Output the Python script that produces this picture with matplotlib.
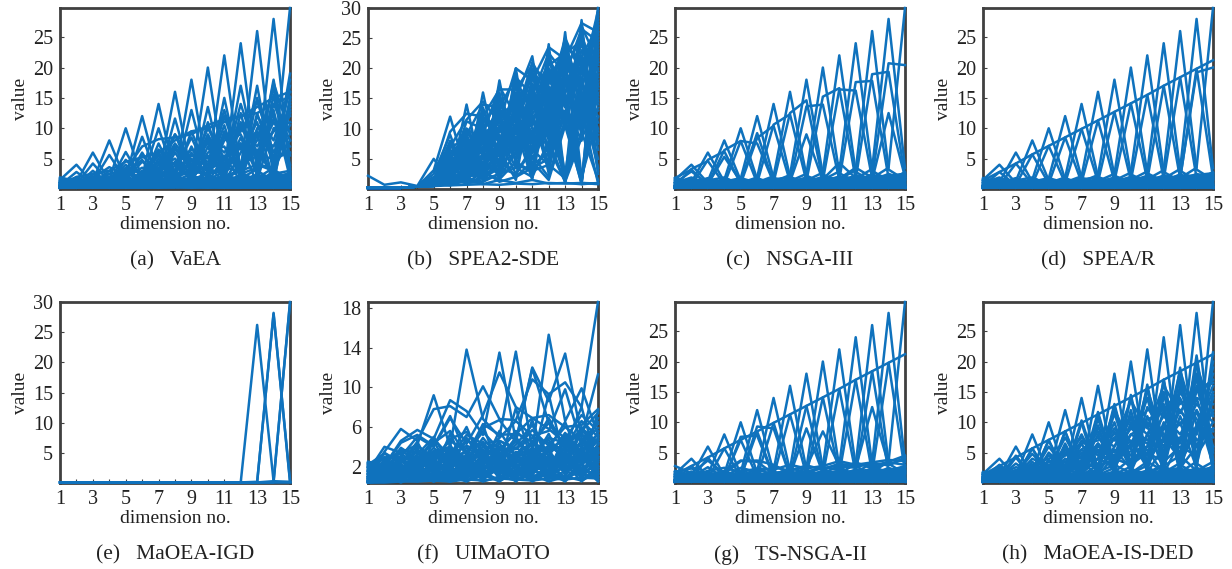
import matplotlib
matplotlib.use("Agg")
import matplotlib.pyplot as plt

plt.rcParams["font.family"] = ["Liberation Serif", "DejaVu Serif"]
plt.rcParams["font.size"] = 13

BLUE = "#0f72bd"
EDGE = "#404040"
TXT = "#222222"

DIMS = list(range(1, 16))

# single-objective extremes (value 2k at dimension k)
SPIKES = [
    [1.5, 4.0, 1.0, 0.4, 0.3, 0.3, 0.2, 0.3, 0.2, 0.3, 0.2, 0.3, 0.2, 0.3, 0.2],
    [0.6, 1.1, 6.0, 1.2, 0.5, 0.4, 0.3, 0.4, 0.3, 0.2, 0.3, 0.2, 0.3, 0.2, 0.3],
    [0.4, 0.7, 1.3, 8.0, 1.4, 0.6, 0.4, 0.3, 0.3, 0.4, 0.2, 0.3, 0.2, 0.3, 0.2],
    [0.3, 0.5, 0.8, 1.5, 10.0, 1.6, 0.7, 0.5, 0.4, 0.3, 0.4, 0.2, 0.3, 0.2, 0.3],
    [0.2, 0.4, 0.5, 0.9, 1.7, 12.0, 1.8, 0.8, 0.6, 0.4, 0.3, 0.3, 0.2, 0.3, 0.2],
    [0.3, 0.3, 0.4, 0.6, 1.0, 1.9, 14.0, 2.0, 0.9, 0.6, 0.4, 0.3, 0.3, 0.2, 0.4],
    [0.2, 0.3, 0.3, 0.5, 0.7, 1.1, 2.1, 16.0, 2.2, 1.0, 0.7, 0.5, 0.3, 0.3, 0.2],
    [0.3, 0.2, 0.3, 0.4, 0.5, 0.8, 1.2, 2.3, 18.0, 2.4, 1.1, 0.8, 0.5, 0.3, 0.3],
    [0.2, 0.3, 0.2, 0.3, 0.4, 0.6, 0.9, 1.3, 2.5, 20.0, 2.6, 1.2, 0.8, 0.5, 0.4],
    [0.3, 0.2, 0.3, 0.3, 0.3, 0.5, 0.7, 1.0, 1.4, 2.7, 22.0, 2.8, 1.3, 0.9, 0.5],
    [0.2, 0.3, 0.2, 0.3, 0.3, 0.4, 0.5, 0.8, 1.1, 1.5, 2.9, 24.0, 3.0, 1.4, 0.9],
    [0.3, 0.2, 0.3, 0.2, 0.3, 0.3, 0.4, 0.6, 0.9, 1.2, 1.6, 3.1, 26.0, 3.2, 1.5],
    [0.2, 0.3, 0.2, 0.3, 0.2, 0.3, 0.3, 0.4, 0.7, 1.0, 1.3, 1.7, 3.3, 28.0, 3.4],
    [0.3, 0.2, 0.3, 0.2, 0.3, 0.2, 0.3, 0.3, 0.5, 0.8, 1.1, 1.4, 1.8, 3.5, 29.8],
]

# two-objective points on neighbouring dimensions
PAIRS = [
    [1.4, 2.8, 0.6, 0.3, 0.2, 0.3, 0.2, 0.3, 0.2, 0.3, 0.2, 0.3, 0.2, 0.3, 0.2],
    [0.5, 2.8, 4.2, 0.8, 0.3, 0.2, 0.3, 0.2, 0.3, 0.2, 0.3, 0.2, 0.3, 0.2, 0.3],
    [0.3, 0.6, 4.2, 5.7, 0.9, 0.3, 0.2, 0.3, 0.2, 0.3, 0.2, 0.3, 0.2, 0.3, 0.2],
    [0.2, 0.4, 0.7, 5.7, 7.1, 1.0, 0.3, 0.2, 0.3, 0.2, 0.3, 0.2, 0.3, 0.2, 0.3],
    [0.3, 0.3, 0.4, 0.8, 7.1, 8.5, 1.1, 0.4, 0.3, 0.2, 0.3, 0.2, 0.3, 0.2, 0.3],
    [0.2, 0.3, 0.3, 0.5, 0.9, 8.5, 9.9, 1.2, 0.4, 0.3, 0.2, 0.3, 0.2, 0.3, 0.2],
    [0.3, 0.2, 0.3, 0.4, 0.6, 1.0, 9.9, 11.3, 1.3, 0.5, 0.3, 0.2, 0.3, 0.2, 0.3],
    [0.2, 0.3, 0.2, 0.3, 0.4, 0.7, 1.1, 11.3, 12.7, 1.4, 0.5, 0.3, 0.2, 0.3, 0.2],
    [0.3, 0.2, 0.3, 0.2, 0.3, 0.5, 0.8, 1.2, 12.7, 14.1, 1.5, 0.6, 0.3, 0.2, 0.3],
    [0.2, 0.3, 0.2, 0.3, 0.2, 0.4, 0.5, 0.9, 1.3, 14.1, 15.5, 1.6, 0.6, 0.3, 0.2],
    [0.3, 0.2, 0.3, 0.2, 0.3, 0.3, 0.4, 0.6, 1.0, 1.4, 15.5, 17.0, 1.7, 0.7, 0.3],
    [0.2, 0.3, 0.2, 0.3, 0.2, 0.3, 0.3, 0.4, 0.7, 1.1, 1.5, 17.0, 18.4, 1.8, 0.7],
    [0.3, 0.2, 0.3, 0.2, 0.3, 0.2, 0.3, 0.3, 0.5, 0.8, 1.2, 1.6, 18.4, 19.8, 1.9],
    [0.2, 0.3, 0.2, 0.3, 0.2, 0.3, 0.2, 0.3, 0.4, 0.6, 0.9, 1.3, 1.7, 19.8, 21.2],
]

# low-valued solutions near the bottom
BAND = [
    [1.8, 1.2, 0.8, 1.0, 0.9, 1.2, 1.1, 1.4, 1.3, 1.6, 1.9, 1.7, 2.0, 2.2, 2.4],
    [0.9, 1.6, 1.3, 0.7, 1.1, 0.8, 1.3, 1.0, 1.5, 1.2, 1.4, 2.1, 1.6, 1.9, 2.6],
    [0.5, 0.8, 1.1, 1.4, 0.6, 1.0, 0.7, 1.2, 0.9, 1.8, 1.1, 1.5, 2.3, 1.4, 2.0],
    [1.2, 0.4, 0.6, 0.9, 1.3, 0.5, 0.9, 0.6, 1.1, 0.8, 1.6, 1.0, 1.3, 2.5, 1.5],
    [0.3, 0.6, 0.4, 0.5, 0.8, 1.1, 0.5, 0.8, 0.6, 1.0, 0.7, 1.3, 0.9, 1.2, 2.8],
    [1.5, 1.0, 1.5, 1.2, 0.4, 0.7, 1.4, 0.5, 0.7, 0.6, 0.9, 0.7, 1.1, 0.8, 1.2],
    [0.7, 0.3, 0.9, 0.3, 0.5, 0.4, 0.6, 0.9, 0.4, 0.5, 0.5, 0.9, 0.6, 1.0, 0.7],
    [0.2, 0.2, 0.3, 0.2, 0.3, 0.3, 0.3, 0.3, 0.4, 0.4, 0.4, 0.5, 0.5, 0.5, 0.6],
    [1.0, 1.9, 0.6, 1.7, 1.0, 1.5, 0.9, 1.7, 1.2, 2.0, 1.3, 2.2, 1.5, 1.7, 1.9],
    [0.4, 0.9, 1.8, 0.8, 1.6, 0.9, 1.8, 1.1, 1.9, 1.0, 2.1, 1.2, 2.4, 1.3, 2.1],
    [0.6, 1.3, 0.5, 1.2, 1.8, 1.0, 1.6, 1.9, 0.8, 1.4, 1.7, 1.0, 1.8, 2.0, 1.3],
    [1.3, 0.7, 1.4, 1.9, 0.7, 1.8, 0.8, 1.3, 1.7, 0.9, 1.2, 1.9, 1.2, 1.6, 2.3],
    [0.3, 1.1, 0.4, 0.6, 1.4, 0.4, 1.0, 0.4, 1.0, 1.3, 0.6, 1.1, 0.7, 1.5, 0.9],
    [1.0, 0.5, 1.0, 0.5, 0.6, 1.4, 0.5, 1.1, 0.5, 0.7, 1.1, 0.6, 1.7, 0.6, 1.8],
]

VAEA = [
    [0.6, 2.8, 0.9, 1.0, 6.1, 1.5, 10.0, 2.0, 1.5, 13.5, 2.2, 3.0, 17.0, 2.5, 3.0],
    [0.4, 0.8, 4.2, 1.2, 1.0, 8.6, 1.5, 11.6, 2.0, 1.8, 15.0, 2.5, 3.5, 18.0, 2.0],
    [1.0, 1.5, 1.2, 5.6, 1.5, 2.0, 6.0, 1.8, 13.0, 2.5, 3.0, 17.0, 4.0, 3.0, 19.0],
    [0.3, 2.0, 2.5, 3.0, 4.5, 5.2, 6.0, 8.0, 9.5, 10.0, 11.0, 12.0, 13.5, 15.0, 16.0],
    [0.5, 1.0, 1.5, 2.5, 3.2, 7.0, 8.2, 8.5, 9.0, 10.5, 11.5, 12.0, 12.5, 14.0, 15.2],
    [0.2, 0.5, 0.8, 1.0, 2.0, 3.5, 2.0, 7.0, 3.0, 9.0, 4.0, 11.0, 6.0, 9.5, 11.0],
    [0.9, 1.2, 2.0, 1.5, 4.0, 1.0, 7.5, 2.0, 9.5, 3.0, 10.5, 2.0, 15.0, 5.0, 14.0],
    [0.3, 0.6, 3.0, 0.8, 2.5, 4.8, 1.2, 6.0, 2.0, 8.0, 1.5, 12.5, 2.0, 15.5, 3.0],
    [0.4, 0.8, 0.6, 2.5, 0.9, 2.0, 4.5, 1.0, 7.0, 1.5, 9.0, 3.0, 12.0, 8.0, 16.0],
    [0.7, 0.4, 1.0, 0.6, 1.8, 0.9, 3.5, 5.0, 1.2, 6.0, 7.0, 2.0, 10.0, 12.0, 4.0],
    [0.2, 0.3, 0.5, 0.4, 0.6, 1.5, 0.8, 3.0, 4.0, 2.0, 8.0, 9.0, 3.0, 14.0, 8.0],
    [0.5, 0.4, 0.3, 0.9, 0.5, 0.8, 1.2, 0.7, 2.0, 4.0, 1.0, 6.0, 11.0, 1.5, 13.0],
    [1.2, 0.7, 0.4, 0.3, 1.0, 0.4, 0.6, 2.5, 0.8, 1.0, 5.5, 1.2, 1.5, 10.0, 11.0],
    [0.3, 0.5, 0.7, 1.2, 0.5, 2.5, 0.9, 1.5, 5.0, 0.7, 2.0, 7.5, 0.8, 3.0, 18.0],
    [0.6, 0.9, 1.3, 0.6, 1.4, 1.0, 2.8, 0.6, 1.0, 7.0, 0.9, 1.5, 9.0, 0.9, 15.0],
    [0.2, 0.2, 0.3, 0.3, 0.4, 0.5, 0.4, 0.6, 0.5, 0.8, 0.6, 1.0, 0.8, 1.2, 1.5],
    [1.9, 1.3, 0.9, 0.6, 0.8, 0.6, 0.5, 0.9, 0.7, 0.6, 1.2, 0.8, 1.3, 1.0, 0.8],
    [0.5, 1.8, 1.0, 1.8, 2.8, 1.2, 4.0, 3.0, 5.5, 4.5, 5.0, 7.5, 6.0, 9.5, 12.0],
    [0.4, 1.1, 1.8, 3.6, 2.2, 5.5, 3.0, 7.5, 4.0, 8.5, 6.0, 10.0, 7.0, 11.5, 9.5],
    [0.8, 0.5, 2.4, 1.5, 3.5, 2.5, 5.5, 4.0, 6.5, 5.0, 8.5, 6.5, 9.0, 7.0, 13.5],
    [0.3, 1.4, 0.7, 2.0, 1.5, 4.5, 2.5, 6.5, 3.5, 10.0, 5.0, 9.5, 14.5, 6.0, 10.5],
    [1.1, 0.6, 1.6, 0.9, 4.8, 2.0, 6.5, 3.0, 8.5, 2.5, 12.0, 4.0, 8.0, 16.5, 5.5],
    [0.5, 1.6, 0.8, 3.0, 1.2, 6.0, 1.6, 9.0, 4.5, 7.5, 3.5, 14.0, 5.5, 11.0, 7.0],
    [0.2, 0.7, 1.5, 0.8, 3.2, 1.0, 5.0, 1.5, 6.0, 1.8, 9.5, 1.6, 12.5, 4.0, 17.0],
    [0.9, 1.3, 0.5, 1.9, 0.8, 3.0, 1.2, 4.5, 1.5, 11.0, 2.0, 8.5, 2.5, 13.0, 1.8],
    [0.6, 0.4, 1.1, 0.5, 2.2, 0.8, 4.0, 9.0, 2.5, 4.0, 13.0, 3.5, 6.5, 2.0, 14.5],
    [0.4, 0.9, 0.6, 1.4, 0.9, 2.4, 5.5, 1.8, 3.5, 8.5, 2.5, 10.5, 4.5, 17.5, 9.0],
    [1.4, 0.8, 1.2, 0.7, 1.6, 1.2, 2.0, 3.8, 2.0, 5.5, 3.0, 7.0, 9.5, 5.0, 12.5],
    [0.3, 0.5, 0.9, 1.1, 1.3, 2.0, 2.8, 2.2, 4.0, 3.0, 4.8, 4.0, 5.5, 5.0, 6.0],
    [0.7, 1.0, 0.6, 1.3, 2.6, 1.5, 2.2, 2.0, 2.8, 2.6, 3.5, 3.0, 4.0, 3.5, 8.0],
]

SPEA2_SDE = [
    [2.2, 0.7, 1.1, 0.5, 5.0, 1.2, 14.0, 1.5, 2.5, 20.0, 3.0, 4.0, 26.0, 2.0, 12.0],
    [0.2, 0.2, 0.2, 0.4, 3.1, 12.0, 2.5, 1.8, 18.0, 4.0, 3.0, 24.0, 1.5, 28.0, 2.5],
    [0.2, 0.2, 0.2, 0.4, 2.5, 9.0, 1.5, 16.0, 3.0, 15.0, 22.0, 5.0, 18.0, 10.0, 30.0],
    [0.2, 0.2, 0.2, 0.4, 1.5, 3.0, 11.2, 10.0, 15.5, 6.0, 18.5, 12.0, 22.0, 14.0, 25.0],
    [0.2, 0.2, 0.2, 0.4, 1.0, 6.0, 5.0, 13.5, 5.5, 17.2, 8.0, 20.0, 11.0, 25.0, 8.0],
    [0.2, 0.2, 0.2, 0.4, 0.6, 4.0, 8.0, 4.0, 12.0, 7.0, 16.0, 9.0, 15.0, 1.0, 20.0],
    [0.2, 0.2, 0.2, 0.4, 1.2, 2.0, 6.0, 10.5, 2.0, 14.0, 3.0, 17.0, 2.5, 20.0, 15.0],
    [0.2, 0.2, 0.2, 0.4, 0.8, 7.5, 2.5, 7.0, 9.0, 3.5, 12.0, 4.0, 13.0, 1.2, 27.0],
    [0.2, 0.2, 0.2, 0.4, 2.0, 1.5, 9.0, 3.0, 6.0, 12.0, 2.0, 15.0, 20.0, 9.0, 18.0],
    [0.2, 0.2, 0.2, 0.4, 0.5, 3.5, 4.0, 8.5, 11.0, 9.0, 14.0, 16.0, 11.0, 12.0, 22.0],
    [0.2, 0.2, 0.2, 0.4, 1.4, 5.0, 3.0, 5.5, 14.0, 10.0, 6.0, 13.0, 17.0, 18.0, 10.0],
    [0.2, 0.2, 0.2, 0.4, 0.7, 1.0, 3.5, 2.0, 7.0, 16.0, 10.0, 7.0, 19.0, 22.0, 14.0],
    [0.2, 0.2, 0.2, 0.4, 0.9, 2.5, 1.2, 6.0, 4.5, 8.0, 15.0, 11.0, 24.0, 16.0, 5.0],
    [0.2, 0.2, 0.2, 0.4, 0.6, 1.5, 2.0, 3.5, 10.0, 5.0, 9.0, 18.0, 14.0, 8.0, 26.0],
    [0.2, 0.2, 0.2, 0.4, 1.1, 4.5, 7.0, 2.5, 5.0, 13.0, 5.0, 10.0, 2.0, 17.0, 12.0],
    [0.2, 0.2, 0.2, 0.4, 0.5, 1.2, 1.5, 9.0, 2.0, 6.0, 12.5, 3.0, 16.0, 1.5, 16.0],
    [0.2, 0.2, 0.2, 0.4, 0.8, 2.0, 5.0, 1.5, 8.0, 2.5, 7.0, 14.0, 1.5, 15.0, 3.5],
    [0.2, 0.2, 0.2, 0.4, 0.6, 0.8, 2.5, 4.5, 3.0, 11.0, 4.0, 6.0, 12.0, 11.0, 19.0],
    [0.2, 0.2, 0.2, 0.4, 1.0, 3.0, 1.0, 2.0, 6.5, 1.5, 17.0, 2.5, 21.0, 1.0, 23.0],
    [0.2, 0.2, 0.2, 0.4, 0.5, 0.9, 1.8, 1.2, 2.5, 3.5, 2.0, 8.0, 1.2, 13.0, 1.0],
    [0.2, 0.2, 0.2, 0.4, 0.7, 1.8, 0.9, 3.0, 1.2, 2.0, 4.5, 1.5, 10.5, 1.0, 0.8],
    [0.2, 0.2, 0.2, 0.4, 0.9, 0.6, 1.5, 0.8, 1.5, 1.0, 1.5, 0.9, 1.0, 0.8, 1.0],
    [0.2, 0.2, 0.2, 0.4, 0.5, 0.6, 0.7, 0.8, 0.7, 0.9, 0.8, 1.0, 0.9, 1.0, 0.9],
    [0.2, 0.2, 0.2, 0.4, 1.3, 6.5, 4.5, 12.0, 7.5, 18.0, 13.0, 21.0, 16.0, 24.0, 17.0],
    [0.2, 0.2, 0.2, 0.4, 0.6, 2.8, 9.5, 5.5, 13.0, 11.0, 20.0, 15.0, 25.0, 19.0, 28.0],
    [0.2, 0.2, 0.2, 0.4, 0.8, 1.0, 4.0, 6.5, 15.0, 8.0, 13.5, 19.0, 12.0, 27.0, 21.0],
    [0.2, 0.2, 0.2, 0.4, 0.5, 1.5, 3.0, 12.0, 9.5, 14.5, 11.0, 8.5, 23.0, 10.5, 13.0],
    [0.2, 0.2, 0.2, 0.4, 1.7, 4.0, 6.5, 8.0, 1.5, 10.0, 1.5, 22.0, 14.0, 22.0, 6.5],
    [0.2, 0.2, 0.2, 0.4, 0.7, 2.2, 1.0, 1.2, 5.0, 2.0, 3.5, 5.0, 11.0, 0.8, 29.0],
    [0.2, 0.2, 0.2, 0.4, 0.9, 5.5, 2.0, 11.0, 3.5, 19.0, 6.0, 13.5, 1.5, 12.5, 9.0],
    [0.2, 0.2, 0.2, 0.4, 1.0, 4.8, 10.0, 6.0, 10.5, 12.5, 8.5, 17.5, 19.5, 15.0, 23.5],
    [0.2, 0.2, 0.2, 0.4, 0.6, 3.8, 5.5, 9.5, 7.0, 15.5, 11.5, 14.0, 21.0, 17.5, 11.0],
    [0.2, 0.2, 0.2, 0.4, 1.5, 8.0, 3.5, 11.5, 8.5, 5.0, 16.5, 10.5, 17.5, 20.0, 16.5],
    [0.2, 0.2, 0.2, 0.4, 0.9, 2.2, 7.5, 3.5, 12.5, 9.5, 19.5, 8.0, 12.5, 23.0, 19.5],
    [0.2, 0.2, 0.2, 0.4, 0.7, 5.8, 1.8, 8.0, 4.0, 14.5, 7.5, 19.5, 15.5, 13.5, 24.0],
    [0.2, 0.2, 0.2, 0.4, 1.2, 1.8, 6.8, 5.0, 16.0, 4.5, 14.5, 6.5, 20.5, 16.5, 27.5],
    [0.2, 0.2, 0.2, 0.4, 0.5, 3.2, 2.2, 10.0, 6.0, 17.5, 3.5, 16.5, 10.5, 21.0, 7.5],
    [0.2, 0.2, 0.2, 0.4, 0.8, 1.4, 5.5, 7.5, 12.0, 6.5, 17.5, 13.5, 18.5, 11.0, 21.5],
    [0.2, 0.2, 0.2, 0.4, 1.0, 6.8, 8.5, 2.8, 10.5, 8.5, 11.0, 18.5, 13.5, 26.0, 14.5],
    [0.2, 0.2, 0.2, 0.4, 0.6, 2.5, 3.8, 13.0, 8.0, 12.0, 9.5, 11.5, 25.0, 12.5, 22.5],
    [0.2, 0.2, 0.2, 0.4, 1.3, 4.2, 6.2, 6.8, 13.5, 7.5, 15.5, 9.5, 16.5, 14.5, 18.5],
    [0.2, 0.2, 0.2, 0.4, 0.9, 1.2, 2.8, 5.0, 7.5, 10.5, 12.5, 15.5, 18.0, 21.0, 25.5],
    [0.2, 0.2, 0.2, 0.4, 0.7, 3.0, 4.8, 2.2, 4.0, 6.0, 8.0, 12.0, 14.5, 18.5, 3.0],
    [0.2, 0.2, 0.2, 0.4, 1.1, 2.0, 1.5, 4.0, 2.5, 8.5, 5.5, 2.0, 11.5, 2.0, 17.5],
    [0.2, 0.2, 0.2, 0.4, 0.5, 0.9, 1.2, 1.8, 3.5, 2.5, 6.5, 4.0, 1.8, 9.5, 1.5],
    [0.2, 0.2, 0.2, 0.4, 0.8, 1.5, 2.0, 2.6, 1.6, 4.5, 2.8, 7.0, 1.2, 8.5, 13.5],
    [0.2, 0.2, 0.2, 0.4, 0.6, 2.5, 10.0, 8.0, 11.5, 13.5, 16.0, 20.5, 22.5, 24.5, 20.5],
    [0.2, 0.2, 0.2, 0.4, 1.4, 9.5, 12.5, 12.0, 16.5, 16.5, 20.5, 17.5, 24.0, 20.5, 26.5],
    [0.2, 0.2, 0.2, 0.4, 0.9, 5.0, 9.0, 14.0, 13.5, 18.5, 15.5, 22.5, 19.0, 26.5, 24.5],
    [0.2, 0.2, 0.2, 0.4, 0.7, 3.5, 7.0, 9.0, 17.0, 12.0, 21.0, 16.0, 21.5, 18.0, 29.5],
    [0.2, 0.2, 0.2, 0.4, 1.2, 7.0, 11.5, 14.5, 11.0, 20.0, 18.0, 23.5, 21.5, 27.5, 26.0],
    [0.2, 0.2, 0.2, 0.4, 0.8, 4.5, 6.0, 11.0, 14.5, 10.0, 13.0, 21.5, 17.0, 22.0, 27.0],
    [0.2, 0.2, 0.2, 0.4, 0.6, 2.0, 8.5, 6.0, 9.5, 15.0, 9.0, 12.5, 19.5, 25.5, 17.0],
    [0.2, 0.2, 0.2, 0.4, 1.0, 5.2, 3.0, 9.0, 11.5, 11.5, 17.0, 10.0, 22.5, 15.5, 21.0],
    [0.2, 0.2, 0.2, 0.4, 1.3, 3.0, 5.0, 7.0, 9.5, 13.0, 10.5, 20.0, 16.0, 19.5, 28.5],
    [0.2, 0.2, 0.2, 0.4, 0.5, 1.8, 4.5, 3.0, 8.0, 7.0, 11.5, 14.0, 1.0, 18.0, 9.5],
    [0.2, 0.2, 0.2, 0.4, 0.9, 3.6, 2.0, 4.5, 5.5, 9.5, 6.5, 10.5, 12.5, 10.0, 24.5],
    [0.2, 0.2, 0.2, 0.4, 0.7, 6.0, 7.5, 10.0, 12.5, 14.0, 19.0, 14.0, 23.5, 21.5, 15.5],
]

NSGA3_PAIRS = [
    [1.8, 3.2, 0.6, 0.3, 0.2, 0.3, 0.2, 0.3, 0.2, 0.3, 0.2, 0.3, 0.2, 0.3, 0.2],
    [0.5, 3.3, 4.6, 0.8, 0.3, 0.2, 0.3, 0.2, 0.3, 0.2, 0.3, 0.2, 0.3, 0.2, 0.3],
    [0.3, 0.6, 4.8, 6.2, 0.9, 0.3, 0.2, 0.3, 0.2, 0.3, 0.2, 0.3, 0.2, 0.3, 0.2],
    [0.2, 0.4, 0.7, 6.4, 7.9, 1.0, 0.3, 0.2, 0.3, 0.2, 0.3, 0.2, 0.3, 0.2, 0.3],
    [0.3, 0.3, 0.4, 0.8, 7.9, 7.5, 1.1, 0.4, 0.3, 0.2, 0.3, 0.2, 0.3, 0.2, 0.3],
    [0.2, 0.3, 0.3, 0.5, 0.9, 8.4, 10.4, 1.2, 0.4, 0.3, 0.2, 0.3, 0.2, 0.3, 0.2],
    [0.3, 0.2, 0.3, 0.4, 0.6, 1.0, 10.6, 12.3, 1.3, 0.5, 0.3, 0.2, 0.3, 0.2, 0.3],
    [0.2, 0.3, 0.2, 0.3, 0.4, 0.7, 1.1, 12.5, 14.6, 1.4, 0.5, 0.3, 0.2, 0.3, 0.2],
    [0.3, 0.2, 0.3, 0.2, 0.3, 0.5, 0.8, 1.2, 13.6, 13.9, 1.5, 0.6, 0.3, 0.2, 0.3],
    [0.2, 0.3, 0.2, 0.3, 0.2, 0.4, 0.5, 0.9, 1.3, 15.2, 16.6, 1.6, 0.6, 0.3, 0.2],
    [0.3, 0.2, 0.3, 0.2, 0.3, 0.3, 0.4, 0.6, 1.0, 1.4, 16.4, 16.2, 1.7, 0.7, 0.3],
    [0.2, 0.3, 0.2, 0.3, 0.2, 0.3, 0.3, 0.4, 0.7, 1.1, 1.5, 17.6, 17.8, 1.8, 0.7],
    [0.3, 0.2, 0.3, 0.2, 0.3, 0.2, 0.3, 0.3, 0.5, 0.8, 1.2, 1.6, 18.9, 19.3, 1.9],
    [0.2, 0.3, 0.2, 0.3, 0.2, 0.3, 0.2, 0.3, 0.4, 0.6, 0.9, 1.3, 1.7, 20.7, 20.4],
]

NSGA3 = [
    [0.4, 0.6, 0.8, 0.5, 0.9, 0.7, 1.0, 1.2, 9.0, 1.4, 1.0, 1.3, 1.1, 1.6, 1.4],
    [0.3, 0.5, 0.4, 0.7, 0.6, 0.9, 0.8, 1.1, 1.3, 1.6, 4.3, 1.8, 1.5, 12.5, 2.0],
    [0.6, 0.4, 0.7, 0.6, 0.8, 1.0, 0.9, 1.3, 1.1, 1.5, 1.7, 3.5, 1.9, 2.2, 2.4],
    [1.0, 2.9, 0.8, 5.3, 1.2, 9.2, 1.0, 1.4, 1.2, 1.5, 1.3, 1.7, 1.6, 1.8, 2.1],
]

SPEA_R = [
    [0.5, 0.4, 0.6, 0.8, 0.7, 1.0, 1.2, 1.1, 1.4, 1.6, 1.9, 1.7, 2.0, 2.3, 2.6],
    [0.6, 0.5, 0.7, 0.6, 0.9, 0.8, 1.1, 1.0, 1.3, 1.2, 2.2, 1.4, 1.8, 19.2, 20.0],
]

TS_NSGA2 = [
    [0.3, 0.3, 0.4, 0.6, 7.6, 7.8, 1.0, 0.4, 0.3, 0.3, 0.2, 0.3, 0.2, 0.3, 0.2],
    [0.2, 0.3, 0.3, 0.5, 0.9, 9.3, 9.0, 1.1, 0.4, 0.3, 0.3, 0.2, 0.3, 0.2, 0.3],
    [2.8, 1.6, 3.7, 1.5, 3.6, 3.7, 3.0, 1.6, 1.9, 2.4, 3.0, 3.1, 2.8, 3.5, 4.5],
    [1.8, 2.4, 1.2, 2.0, 3.7, 3.5, 1.5, 2.2, 2.6, 8.5, 2.8, 2.5, 12.5, 3.0, 4.0],
    [0.9, 1.1, 2.0, 2.5, 1.8, 2.4, 2.2, 3.0, 2.4, 2.8, 3.6, 3.0, 3.4, 3.8, 3.6],
    [1.2, 0.8, 1.5, 1.1, 2.5, 1.8, 2.6, 2.0, 2.9, 2.2, 3.2, 2.6, 3.3, 2.9, 4.2],
    [0.5, 1.4, 0.9, 1.8, 1.3, 2.2, 1.4, 2.4, 1.8, 2.6, 2.2, 3.4, 2.4, 3.4, 3.0],
    [2.0, 1.0, 2.6, 0.8, 1.6, 1.2, 1.8, 1.3, 9.0, 1.6, 2.0, 1.8, 2.3, 2.0, 2.8],
]

MAOEA_IGD = [
    [0.1, 0.1, 0.1, 0.1, 0.1, 0.1, 0.1, 0.1, 0.1, 0.1, 0.1, 0.1, 0.1, 0.1, 0.1],
    [0.1, 0.1, 0.1, 0.1, 0.1, 0.1, 0.1, 0.1, 0.1, 0.1, 0.1, 0.1, 26.2, 0.3, 0.2],
    [0.1, 0.1, 0.1, 0.1, 0.1, 0.1, 0.1, 0.1, 0.1, 0.1, 0.1, 0.1, 0.1, 28.2, 0.2],
    [0.1, 0.1, 0.1, 0.1, 0.1, 0.1, 0.1, 0.1, 0.1, 0.1, 0.1, 0.1, 0.2, 28.0, 0.4],
    [0.1, 0.1, 0.1, 0.1, 0.1, 0.1, 0.1, 0.1, 0.1, 0.1, 0.1, 0.1, 0.1, 0.1, 30.0],
    [0.1, 0.1, 0.1, 0.1, 0.1, 0.1, 0.1, 0.1, 0.1, 0.1, 0.1, 0.1, 0.1, 0.3, 29.8],
]

UIMAOTO = [
    [2.5, 2.1, 4.6, 5.7, 4.8, 8.7, 7.6, 5.2, 13.5, 4.6, 12.0, 8.6, 13.4, 5.0, 11.3],
    [1.5, 4.0, 3.4, 4.2, 9.2, 4.0, 13.8, 6.8, 5.0, 13.6, 3.6, 15.3, 6.6, 9.9, 5.2],
    [0.8, 3.5, 5.8, 4.6, 7.8, 8.1, 7.0, 10.1, 6.8, 6.7, 10.8, 9.3, 10.5, 8.0, 18.6],
    [1.9, 2.8, 3.0, 5.0, 4.0, 6.9, 4.3, 7.2, 11.5, 8.0, 6.9, 7.2, 6.0, 6.2, 7.8],
    [1.2, 1.5, 3.9, 2.8, 4.4, 5.6, 3.2, 5.9, 6.7, 4.5, 11.9, 6.4, 4.8, 7.2, 5.6],
    [2.2, 3.3, 2.5, 3.6, 2.6, 4.8, 5.5, 3.4, 4.9, 6.6, 5.1, 5.6, 9.8, 4.2, 6.5],
    [0.6, 2.4, 1.8, 3.2, 5.0, 2.2, 4.6, 4.1, 3.6, 5.6, 4.0, 6.9, 3.8, 5.9, 4.4],
    [1.6, 0.9, 2.9, 1.6, 3.3, 3.8, 2.5, 4.9, 2.8, 4.2, 6.2, 3.1, 5.4, 3.3, 6.9],
    [0.4, 1.7, 1.0, 2.5, 1.8, 3.1, 6.0, 2.0, 5.6, 3.0, 3.4, 4.7, 2.4, 4.6, 3.0],
    [2.0, 1.2, 2.2, 1.1, 3.6, 1.6, 3.9, 3.0, 2.1, 7.9, 2.3, 3.8, 6.5, 2.2, 4.9],
    [1.0, 2.0, 1.4, 3.9, 1.2, 2.7, 2.0, 6.2, 1.5, 3.5, 2.6, 5.3, 1.8, 3.6, 2.4],
    [0.5, 0.7, 3.1, 0.9, 2.3, 1.1, 2.9, 1.4, 4.4, 1.5, 4.6, 1.9, 4.1, 8.0, 2.0],
    [1.4, 1.0, 0.8, 2.0, 0.9, 4.2, 1.3, 2.6, 1.2, 2.9, 1.6, 2.5, 3.2, 1.6, 7.6],
    [0.9, 1.9, 1.2, 0.7, 2.9, 0.8, 1.9, 1.0, 3.3, 1.1, 1.8, 3.6, 1.3, 2.8, 1.5],
    [1.8, 0.6, 1.7, 1.3, 0.6, 2.1, 0.7, 3.6, 0.9, 2.1, 0.8, 2.2, 0.9, 4.8, 3.3],
    [0.4, 1.3, 0.5, 1.9, 1.5, 0.6, 3.3, 0.7, 2.4, 0.9, 3.2, 1.0, 2.7, 1.0, 2.6],
    [2.4, 1.6, 2.6, 2.2, 2.0, 3.4, 2.4, 2.2, 3.9, 2.6, 2.9, 4.1, 3.0, 3.9, 3.8],
    [0.7, 0.5, 0.6, 0.8, 1.0, 1.3, 1.1, 1.6, 1.4, 1.2, 1.5, 1.3, 1.9, 1.7, 1.2],
    [0.4, 0.4, 0.5, 0.5, 0.6, 0.5, 0.7, 0.6, 0.8, 0.7, 0.6, 0.8, 0.7, 0.9, 0.8],
    [1.2, 2.6, 2.0, 1.5, 1.7, 2.5, 1.6, 4.5, 2.0, 5.0, 2.5, 9.3, 2.2, 6.0, 2.8],
    [0.9, 1.1, 1.6, 2.6, 3.5, 4.0, 2.8, 3.1, 4.0, 3.3, 4.4, 3.5, 4.2, 3.4, 4.8],
    [1.7, 2.3, 3.7, 3.4, 2.4, 1.9, 4.9, 2.5, 2.9, 4.9, 3.0, 2.6, 3.1, 2.7, 3.6],
    [0.6, 1.0, 2.3, 4.5, 1.4, 5.3, 1.8, 3.7, 1.6, 2.4, 6.7, 2.0, 2.3, 5.4, 1.8],
    [1.3, 3.0, 0.9, 1.2, 4.6, 1.5, 2.2, 1.2, 2.2, 1.4, 2.0, 1.5, 5.2, 1.4, 2.1],
    [2.1, 0.8, 1.9, 2.9, 2.2, 2.9, 3.5, 1.9, 3.1, 1.9, 1.3, 3.0, 1.6, 2.2, 4.2],
    [0.5, 1.5, 2.0, 1.0, 2.5, 1.4, 2.0, 2.8, 1.2, 3.2, 1.9, 2.8, 1.4, 3.0, 1.0],
    [1.1, 0.6, 1.2, 2.4, 0.8, 1.9, 1.0, 1.8, 2.6, 1.0, 2.4, 1.1, 3.6, 1.2, 3.4],
    [2.3, 1.4, 0.7, 1.4, 1.9, 0.9, 2.6, 1.2, 1.8, 2.8, 1.2, 3.2, 2.0, 1.9, 2.6],
    [0.7, 2.2, 1.6, 0.6, 1.1, 2.8, 1.4, 3.0, 0.8, 1.7, 3.6, 0.9, 1.1, 3.4, 0.7],
    [1.5, 0.5, 2.5, 1.8, 0.7, 1.2, 3.1, 0.8, 2.3, 0.7, 1.4, 2.4, 0.8, 2.4, 5.5],
    [0.4, 0.9, 0.5, 3.0, 2.6, 3.6, 0.9, 2.3, 3.2, 2.0, 0.9, 1.7, 4.6, 0.7, 1.6],
    [1.9, 2.9, 3.3, 2.2, 3.9, 2.4, 3.6, 2.8, 4.6, 3.8, 4.9, 4.4, 3.6, 4.3, 5.9],
    [1.0, 1.8, 2.7, 3.4, 3.0, 3.1, 4.1, 3.5, 3.0, 4.5, 3.3, 4.9, 4.4, 5.2, 4.4],
    [0.6, 0.8, 1.0, 1.0, 1.3, 1.6, 1.4, 2.0, 1.7, 2.2, 2.1, 2.0, 2.6, 2.4, 2.9],
    [1.3, 1.1, 0.9, 1.6, 0.5, 1.4, 0.6, 1.5, 0.6, 1.3, 0.7, 1.6, 0.6, 1.8, 0.9],
    [0.8, 2.5, 1.3, 2.0, 3.2, 2.0, 3.0, 1.6, 3.8, 2.3, 3.9, 2.2, 2.2, 3.1, 3.9],
    [2.1, 1.8, 2.8, 2.6, 1.5, 3.9, 2.1, 4.0, 2.5, 3.9, 2.9, 3.5, 5.0, 3.0, 4.6],
    [0.4, 0.6, 1.4, 0.7, 1.7, 0.8, 1.2, 0.9, 2.0, 0.8, 2.7, 0.9, 1.5, 1.1, 1.3],
    [1.6, 3.4, 2.4, 4.1, 2.9, 4.6, 3.5, 5.5, 3.7, 5.4, 4.5, 6.4, 3.9, 6.6, 5.0],
    [0.9, 1.4, 3.6, 2.6, 4.8, 3.0, 5.2, 4.3, 4.6, 3.8, 5.7, 4.1, 6.0, 4.7, 6.3],
    [0.5, 2.0, 4.4, 5.2, 4.1, 7.1, 3.1, 6.3, 5.2, 5.3, 6.9, 5.8, 4.4, 5.6, 7.4],
    [0.4, 0.5, 0.8, 0.6, 0.9, 0.5, 1.1, 0.5, 1.0, 0.6, 1.2, 0.5, 1.0, 0.6, 1.4],
    [0.8, 1.2, 0.4, 1.1, 0.5, 1.0, 0.5, 1.2, 0.5, 1.6, 0.5, 1.4, 0.5, 2.2, 0.5],
    [1.7, 0.9, 1.5, 0.5, 1.3, 0.6, 1.7, 0.7, 1.9, 0.5, 1.8, 0.7, 2.3, 0.5, 2.0],
    [0.5, 1.6, 2.2, 1.5, 2.0, 2.3, 1.9, 2.4, 2.2, 2.5, 2.3, 2.7, 2.5, 2.8, 3.0],
    [2.4, 2.0, 1.1, 2.8, 1.6, 2.4, 1.5, 2.6, 1.4, 2.7, 1.6, 2.9, 1.7, 3.2, 1.8],
    [1.2, 1.3, 2.0, 1.8, 2.7, 1.0, 2.2, 1.1, 2.9, 1.3, 3.1, 1.6, 2.9, 1.4, 3.7],
    [0.6, 2.6, 0.9, 2.3, 0.9, 3.0, 1.0, 3.3, 1.1, 3.4, 1.2, 3.7, 1.2, 3.9, 1.3],
    [2.0, 1.0, 3.0, 0.8, 2.8, 0.7, 3.2, 0.9, 3.5, 1.0, 3.9, 1.1, 4.0, 1.2, 4.3],
    [0.9, 0.7, 1.3, 1.2, 1.6, 2.0, 2.4, 1.7, 2.6, 2.1, 2.8, 2.4, 3.2, 2.6, 3.5],
    [1.5, 1.9, 1.7, 2.5, 2.2, 3.3, 2.7, 3.6, 3.4, 3.1, 3.8, 3.6, 4.2, 3.7, 4.7],
    [0.4, 0.8, 1.9, 0.6, 2.0, 0.6, 2.5, 0.6, 2.6, 0.7, 2.9, 0.7, 3.3, 0.8, 3.0],
    [1.0, 2.3, 2.9, 3.0, 3.5, 2.6, 2.9, 3.2, 3.9, 3.3, 4.3, 3.8, 4.7, 4.0, 5.2],
]

MAOEA_IS_DED = [
    [0.8, 3.0, 1.0, 5.7, 1.5, 8.5, 2.0, 11.7, 2.5, 14.5, 3.0, 17.0, 3.5, 21.0, 4.0],
    [1.5, 1.0, 4.5, 1.2, 7.0, 1.8, 10.3, 2.2, 13.0, 2.8, 16.2, 3.2, 19.0, 4.0, 20.0],
    [0.4, 1.5, 2.0, 3.0, 4.0, 5.0, 6.5, 7.0, 8.0, 9.0, 12.0, 12.5, 13.0, 15.0, 16.5],
    [0.6, 0.8, 1.2, 2.5, 1.5, 4.0, 3.0, 6.0, 5.0, 9.0, 7.0, 11.0, 8.0, 13.0, 10.0],
    [1.0, 0.5, 2.2, 1.0, 3.8, 2.0, 5.5, 3.0, 7.5, 4.5, 10.0, 6.0, 12.0, 8.0, 18.0],
    [0.3, 0.6, 0.9, 1.5, 2.5, 1.8, 4.5, 8.5, 4.0, 6.0, 14.0, 4.0, 16.0, 6.0, 12.0],
    [0.5, 1.2, 0.6, 2.0, 1.0, 3.0, 8.0, 2.5, 11.5, 3.0, 6.0, 15.0, 2.0, 12.0, 3.0],
    [0.7, 0.4, 1.5, 0.8, 3.0, 1.2, 2.0, 9.5, 2.0, 12.0, 2.5, 9.0, 17.0, 3.0, 14.0],
    [0.2, 0.3, 0.5, 0.7, 1.0, 5.0, 1.5, 4.0, 10.0, 1.8, 8.0, 13.0, 1.5, 18.0, 2.0],
    [1.2, 0.9, 0.7, 3.5, 0.9, 1.4, 6.5, 1.5, 6.0, 11.0, 1.7, 6.0, 10.0, 2.5, 21.5],
    [0.4, 0.7, 1.0, 0.6, 5.0, 2.5, 3.5, 6.5, 3.0, 8.0, 9.5, 2.0, 14.0, 7.0, 9.0],
    [0.9, 1.6, 0.5, 1.3, 0.7, 6.5, 1.2, 3.0, 7.5, 2.5, 12.5, 8.0, 5.0, 16.0, 6.0],
    [0.3, 0.5, 1.8, 0.9, 2.0, 1.0, 3.5, 1.2, 4.5, 7.0, 2.5, 10.0, 3.0, 9.0, 15.0],
    [0.6, 1.0, 0.8, 1.6, 1.2, 2.2, 1.6, 5.5, 1.8, 4.0, 5.5, 1.5, 7.0, 12.0, 7.5],
    [0.2, 0.4, 0.3, 0.6, 0.5, 0.9, 0.7, 1.3, 1.0, 2.0, 1.5, 2.8, 4.5, 2.0, 3.5],
    [1.8, 1.0, 1.2, 0.8, 1.5, 1.1, 1.4, 1.8, 3.0, 1.6, 3.5, 2.0, 2.5, 6.0, 10.0],
    [0.5, 1.3, 2.6, 2.0, 4.5, 3.5, 5.5, 7.5, 6.0, 10.5, 8.0, 12.5, 9.5, 14.0, 13.0],
    [0.9, 0.7, 1.6, 2.8, 2.0, 5.5, 4.0, 9.0, 7.0, 13.5, 9.0, 16.0, 11.5, 17.0, 5.0],
    [1.3, 1.8, 1.1, 4.0, 2.8, 4.5, 7.5, 5.0, 9.0, 5.5, 15.5, 7.0, 18.5, 9.5, 16.0],
    [0.4, 1.0, 3.2, 1.4, 6.0, 2.5, 7.0, 4.5, 12.0, 6.5, 10.5, 11.5, 6.5, 19.5, 11.0],
    [0.7, 2.2, 1.0, 3.0, 2.2, 7.5, 2.5, 10.5, 3.5, 9.5, 4.5, 14.0, 12.0, 8.0, 19.0],
    [0.3, 0.6, 1.4, 0.9, 3.5, 1.6, 5.0, 3.0, 8.5, 3.5, 11.0, 5.0, 15.0, 10.5, 8.5],
    [1.0, 0.8, 0.6, 2.2, 1.0, 3.5, 2.0, 6.5, 3.5, 8.0, 6.5, 9.0, 7.0, 15.0, 17.0],
    [0.6, 1.4, 2.0, 1.2, 2.6, 1.5, 3.8, 2.2, 5.5, 2.4, 8.0, 3.5, 11.0, 4.5, 14.5],
    [0.2, 0.5, 0.7, 1.8, 1.1, 2.8, 1.8, 4.0, 2.8, 6.5, 3.5, 7.5, 4.0, 9.5, 6.0],
    [1.6, 1.2, 1.9, 1.4, 2.4, 2.0, 3.2, 2.6, 4.0, 3.0, 5.0, 3.5, 6.0, 4.5, 9.0],
    [0.8, 2.5, 1.5, 4.8, 1.8, 6.0, 2.4, 8.0, 2.0, 10.0, 3.0, 12.0, 4.0, 14.0, 5.5],
    [0.5, 0.9, 1.2, 1.5, 2.4, 2.8, 3.4, 4.0, 4.6, 5.2, 6.0, 6.8, 7.5, 8.5, 11.5],
]

TICKS_30 = [5, 10, 15, 20, 25]
TICKS_30B = [5, 10, 15, 20, 25, 30]
TICKS_18 = [2, 6, 10, 14, 18]

panels = [
    ("(a)   VaEA", BAND + VAEA + SPIKES, (0, 29.8), TICKS_30),
    ("(b)   SPEA2-SDE", SPEA2_SDE, (0, 30), TICKS_30B),
    ("(c)   NSGA-III", BAND + NSGA3 + NSGA3_PAIRS + SPIKES, (0, 29.8), TICKS_30),
    ("(d)   SPEA/R", BAND + SPEA_R + PAIRS + SPIKES, (0, 29.8), TICKS_30),
    ("(e)   MaOEA-IGD", MAOEA_IGD, (0, 30), TICKS_30B),
    ("(f)   UIMaOTO", UIMAOTO, (0.35, 18.6), TICKS_18),
    ("(g)   TS-NSGA-II", BAND + TS_NSGA2 + PAIRS + SPIKES, (0, 29.8), TICKS_30),
    ("(h)   MaOEA-IS-DED", BAND + MAOEA_IS_DED + PAIRS + SPIKES, (0, 29.8), TICKS_30),
]

W, H = 1232, 569
fig = plt.figure(figsize=(W / 100, H / 100), dpi=100)

lefts = [60, 368, 675, 983]
tops = [8, 302]
ax_w, ax_h = 230, 181

for i, (caption, lines, ylim, yticks) in enumerate(panels):
    r, c = divmod(i, 4)
    x0 = lefts[c]
    y0 = tops[r]
    ax = fig.add_axes([x0 / W, 1 - (y0 + ax_h) / H, ax_w / W, ax_h / H])
    for row in lines:
        ax.plot(DIMS[:len(row)], row, color=BLUE, lw=1.8, clip_on=False)
    ax.set_xlim(1, 15)
    ax.set_ylim(*ylim)
    ax.set_xticks(DIMS)
    ax.set_xticklabels([str(d) if d % 2 else "" for d in DIMS])
    ax.set_yticks(yticks)
    ax.tick_params(direction="in", length=3, width=0.8, color=EDGE,
                   labelsize=14.5, labelcolor=TXT, pad=5)
    for s in ax.spines.values():
        s.set_color(EDGE)
        s.set_linewidth(2.0)
        s.set_zorder(0.5)
    ax.set_xlabel("dimension no.", fontsize=14, labelpad=1, color=TXT)
    ax.set_ylabel("value", fontsize=14, labelpad=3, color=TXT)
    fig.text((x0 + ax_w / 2) / W, 1 - (y0 + 253) / H, caption,
             ha="center", va="center", fontsize=15.5, color=TXT)

fig.savefig("out.png", dpi=100)
